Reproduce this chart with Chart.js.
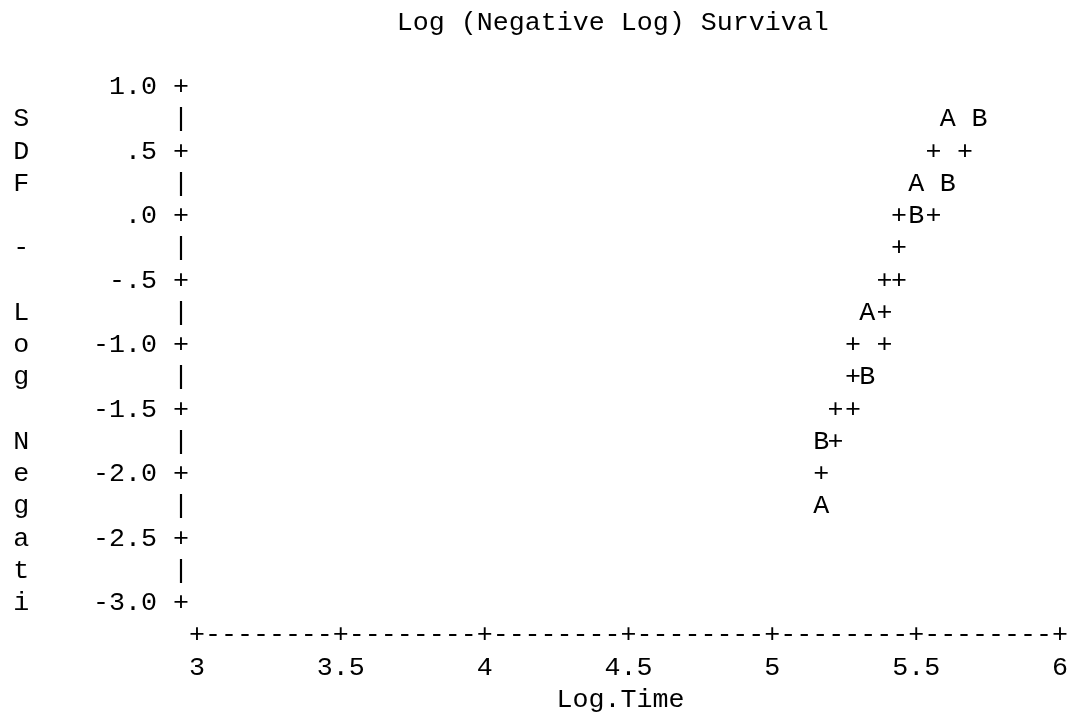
<!DOCTYPE html>
<html>
<head>
<meta charset="utf-8">
<script src="https://cdn.jsdelivr.net/npm/chart.js@4/dist/chart.umd.min.js"></script>
<style>
  html, body { margin: 0; padding: 0; background: #fff; }
  #wrap { width: 1070px; height: 713px; position: relative; }
</style>
</head>
<body>
<div id="wrap"><canvas id="lls"></canvas></div>
<script>
// log time vs log(-log SDF), one plotting character per observation
const stratumA = [
  { x: 5.61, y: 0.75 }, { x: 5.50, y: 0.25 }, { x: 5.33, y: -0.75 }, { x: 5.17, y: -2.25 }
];
const stratumB = [
  { x: 5.72, y: 0.75 }, { x: 5.61, y: 0.25 }, { x: 5.50, y: 0.0 },
  { x: 5.33, y: -1.25 }, { x: 5.17, y: -1.75 }
];
const plusMarks = [
  { x: 5.56, y: 0.5 }, { x: 5.67, y: 0.5 },
  { x: 5.44, y: 0.0 }, { x: 5.56, y: 0.0 },
  { x: 5.44, y: -0.25 },
  { x: 5.39, y: -0.5 }, { x: 5.44, y: -0.5 },
  { x: 5.39, y: -0.75 },
  { x: 5.28, y: -1.0 }, { x: 5.39, y: -1.0 },
  { x: 5.28, y: -1.25 },
  { x: 5.22, y: -1.5 }, { x: 5.28, y: -1.5 },
  { x: 5.22, y: -1.75 },
  { x: 5.17, y: -2.0 }
];

const xTicks = [3, 3.5, 4, 4.5, 5, 5.5, 6];
const xTickLabels = ['3', '3.5', '4', '4.5', '5', '5.5', '6'];
const yTicks = [1, 0.5, 0, -0.5, -1, -1.5, -2, -2.5, -3];
const yTickLabels = ['1.0', '.5', '.0', '-.5', '-1.0', '-1.5', '-2.0', '-2.5', '-3.0'];

const titleText = 'Log (Negative Log) Survival';
const xTitle = 'Log.Time';
const yTitle = 'SDF - Log Negati';

const MONO = '26.67px "Liberation Mono", "Courier New", monospace';

// line-printer style: every mark, tick and label is a character on a grid
const printerPlot = {
  id: 'printerPlot',
  afterDatasetsDraw(chart) {
    const ctx = chart.ctx;
    const xs = chart.scales.x, ys = chart.scales.y;
    const colW = xs.getPixelForValue(3 + 0.5 / 9) - xs.getPixelForValue(3);
    const rowH = ys.getPixelForValue(0.75) - ys.getPixelForValue(1);
    const left = xs.getPixelForValue(3);
    const top = ys.getPixelForValue(1);
    const bottom = ys.getPixelForValue(-3);
    const axisX = left - colW;

    ctx.save();
    ctx.font = MONO;
    ctx.fillStyle = '#000';
    ctx.textBaseline = 'middle';

    // plotted symbols
    chart.data.datasets.forEach((ds, i) => {
      ctx.textAlign = 'center';
      chart.getDatasetMeta(i).data.forEach(pt => {
        ctx.fillText(ds.symbol, pt.x, pt.y);
      });
    });

    // vertical axis: '+' at ticks, '|' between
    ctx.textAlign = 'center';
    for (let v = 1; v >= -3; v -= 0.25) {
      const py = ys.getPixelForValue(v);
      const onTick = Math.abs(v * 2 - Math.round(v * 2)) < 1e-6;
      ctx.fillText(onTick ? '+' : '|', axisX, py);
    }
    ctx.textAlign = 'right';
    yTicks.forEach((v, i) => {
      ctx.fillText(yTickLabels[i], axisX - colW * 1.5, ys.getPixelForValue(v));
    });

    // stacked axis label down the left edge
    ctx.textAlign = 'center';
    [...yTitle].forEach((ch, i) => {
      ctx.fillText(ch, left - 11 * colW, top + (i + 1) * rowH);
    });

    // horizontal axis row
    const axisY = bottom + rowH;
    for (let c = 0; c <= 54; c++) {
      ctx.fillText(c % 9 === 0 ? '+' : '-', left + c * colW, axisY);
    }
    xTicks.forEach((v, i) => {
      ctx.fillText(xTickLabels[i], xs.getPixelForValue(v), bottom + 2 * rowH);
    });

    ctx.textAlign = 'left';
    ctx.fillText(xTitle, left + 23 * colW - colW / 2, bottom + 3 * rowH);
    ctx.fillText(titleText, left + 13 * colW - colW / 2, top - 2 * rowH);
    ctx.restore();
  }
};

new Chart(document.getElementById('lls'), {
  type: 'scatter',
  data: {
    datasets: [
      { label: 'A', symbol: 'A', data: stratumA, pointRadius: 0, pointHoverRadius: 0 },
      { label: 'B', symbol: 'B', data: stratumB, pointRadius: 0, pointHoverRadius: 0 },
      { label: '+', symbol: '+', data: plusMarks, pointRadius: 0, pointHoverRadius: 0 }
    ]
  },
  options: {
    responsive: true,
    maintainAspectRatio: false,
    animation: false,
    layout: { padding: { left: 197, right: 10, top: 87, bottom: 110 } },
    scales: {
      x: { type: 'linear', min: 3, max: 6, display: false },
      y: { type: 'linear', min: -3, max: 1, display: false }
    },
    plugins: {
      legend: { display: false },
      tooltip: { enabled: false }
    }
  },
  plugins: [printerPlot]
});
</script>
</body>
</html>
